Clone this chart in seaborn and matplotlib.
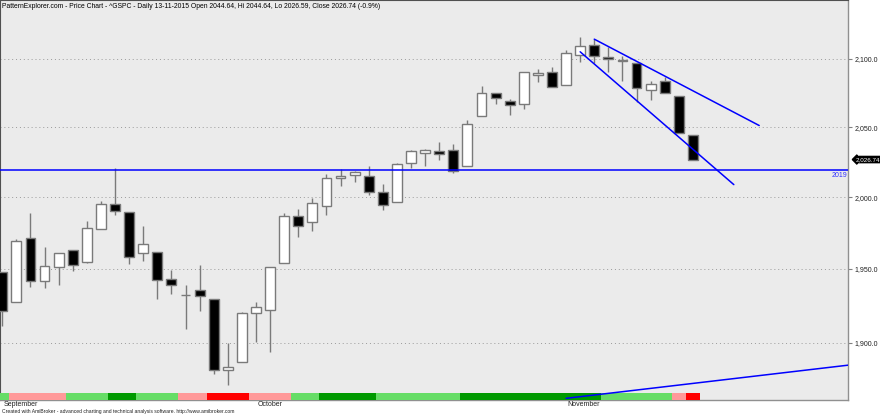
import numpy as np
import pandas as pd
import matplotlib
matplotlib.use('Agg')
import matplotlib.pyplot as plt
import matplotlib.transforms as mtransforms
from matplotlib.ticker import FixedLocator, FuncFormatter, NullLocator
import seaborn as sns

# ^GSPC daily bars, 4 Sep - 13 Nov 2015 (Labor Day closed)
dates = pd.bdate_range('2015-09-04', '2015-11-13').drop(pd.Timestamp('2015-09-07'))

opens = [1947.8, 1927.3, 1971.5, 1941.6, 1951.5, 1963.1, 1955.1, 1978.0, 1995.3, 1989.7,
         1960.8, 1961.4, 1943.2, 1932.2, 1935.9, 1929.2, 1881.9, 1887.1, 1919.7, 1921.8,
         1954.3, 1986.6, 1982.3, 1994.0, 2013.7, 2015.7, 2015.0, 2003.7, 1996.5, 2024.4,
         2031.7, 2033.1, 2033.5, 2021.9, 2058.2, 2075.1, 2068.8, 2066.5, 2088.4, 2090.0,
         2080.8, 2102.6, 2110.6, 2101.7, 2098.6, 2096.6, 2077.2, 2083.4, 2072.3, 2044.64]
highs = [1947.8, 1970.4, 1988.6, 1965.3, 1961.1, 1963.1, 1983.2, 1997.3, 2020.9, 1989.7,
         1979.6, 1961.4, 1949.5, 1938.9, 1952.9, 1929.2, 1899.5, 1920.5, 1927.2, 1951.4,
         1989.2, 1991.6, 1999.3, 2016.5, 2020.1, 2018.7, 2022.3, 2009.6, 2024.2, 2033.5,
         2034.5, 2039.1, 2038.0, 2055.2, 2079.7, 2075.1, 2070.4, 2090.4, 2092.5, 2094.3,
         2106.2, 2116.5, 2114.6, 2108.8, 2101.9, 2096.6, 2083.7, 2086.9, 2072.3, 2044.64]
lows = [1911.2, 1927.3, 1937.9, 1937.2, 1939.2, 1948.3, 1954.3, 1977.9, 1987.7, 1953.5,
        1955.8, 1929.2, 1932.6, 1908.9, 1921.5, 1879.2, 1871.9, 1887.1, 1900.7, 1893.7,
        1954.3, 1972.0, 1976.4, 1987.5, 2007.6, 2010.6, 2001.8, 1990.7, 1996.5, 2020.5,
        2022.3, 2026.6, 2017.2, 2021.9, 2058.2, 2066.5, 2058.8, 2063.1, 2082.6, 2079.3,
        2080.8, 2097.5, 2097.0, 2090.4, 2083.7, 2068.2, 2069.9, 2074.9, 2045.7, 2026.59]
closes = [1921.2, 1969.4, 1942.0, 1952.3, 1961.1, 1953.0, 1978.1, 1995.3, 1990.2, 1958.0,
          1967.0, 1942.7, 1938.8, 1932.2, 1931.3, 1881.8, 1884.1, 1920.0, 1923.8, 1951.4,
          1987.1, 1979.9, 1995.8, 2013.4, 2014.9, 2017.5, 2003.7, 1994.2, 2023.9, 2033.1,
          2033.7, 2030.8, 2018.9, 2052.5, 2075.2, 2071.2, 2065.9, 2090.4, 2089.4, 2079.4,
          2104.1, 2109.8, 2102.3, 2099.9, 2099.2, 2078.6, 2081.7, 2075.0, 2046.0, 2026.74]

# colour strip under the bars: L light green, D dark green, P pink, R red
strip = ['L', 'P', 'P', 'P', 'P', 'L', 'L', 'L', 'D', 'D',
         'L', 'L', 'L', 'P', 'P', 'R', 'R', 'R', 'P', 'P',
         'P', 'L', 'L', 'D', 'D', 'D', 'D', 'L', 'L', 'L',
         'L', 'L', 'L', 'D', 'D', 'D', 'D', 'D', 'D', 'D',
         'D', 'D', 'D', 'L', 'L', 'L', 'L', 'L', 'P', 'R']
strip_colors = {'L': '#66DD66', 'D': '#009900', 'P': '#FF9999', 'R': '#FF0000'}

# hand-drawn lines (bar index, price)
support_level = 2019
upper_line = ([42, 53.7], [2114.6, 2051.2])
lower_line = ([41, 51.9], [2105.2, 2008.9])
bottom_line = ([40, 60], [1863.1, 1885.0])

yticks = [1900, 1950, 2000, 2050, 2100]
title = ("PatternExplorer.com - Price Chart - ^GSPC - Daily 13-11-2015 "
         "Open 2044.64, Hi 2044.64, Lo 2026.59, Close 2026.74 (-0.9%)")
footer = ("Created with AmiBroker - advanced charting and technical analysis "
          "software. http://www.amibroker.com")

sns.set_style('white')
plt.rcParams['font.family'] = ['Liberation Sans', 'DejaVu Sans']

fig = plt.figure(figsize=(8.8, 4.15), dpi=100)
ax = fig.add_axes([0, 15 / 415, 848 / 880, 400 / 415])
ax.set_facecolor('#EBEBEB')

o = np.array(opens)
h = np.array(highs)
l = np.array(lows)
c = np.array(closes)
x = np.arange(len(o))
up = c >= o

ax.set_yscale('log')

# wicks and bodies
ax.vlines(x, l, h, color='#7A7A7A', lw=1, zorder=2)
ax.bar(x, np.abs(c - o), bottom=np.minimum(o, c), width=0.7,
       color=np.where(up, 'white', 'black'), edgecolor='#7A7A7A',
       linewidth=1, zorder=3)

# colour strip
for i, code in enumerate(strip):
    ax.axvspan(i - 0.5, i + 0.5, ymin=0, ymax=0.017,
               color=strip_colors[code], lw=0, zorder=4)

# lines
ax.axhline(support_level, color='#0000FF', lw=1.1, zorder=5)
for xs, ys in [upper_line, lower_line, bottom_line]:
    sns.lineplot(x=xs, y=ys, ax=ax, color='#0000FF', lw=1.1, zorder=5)

ax.set_xlim(-0.16, 60.0)
ax.set_ylim(1862, 2144)

# y axis on the right
ax.yaxis.tick_right()
ax.yaxis.set_major_locator(FixedLocator(yticks))
ax.yaxis.set_minor_locator(NullLocator())
ax.yaxis.set_major_formatter(FuncFormatter(lambda v, _: f'{v:,.1f}'))
ax.tick_params(axis='y', labelsize=5, length=3, width=0.8, color='#808080',
               pad=2, labelcolor='#202020')
ax.grid(axis='y', ls=(0, (1, 3)), color='#9A9A9A', lw=0.7)
ax.set_ylabel('')

# month markers
month_starts = [0] + [i for i in range(1, len(dates)) if dates[i].month != dates[i - 1].month]
ax.set_xticks(month_starts)
ax.set_xticklabels([])
ax.tick_params(axis='x', length=3, width=0.6, color='#404040', direction='out')
bt = mtransforms.blended_transform_factory(ax.transData, ax.transAxes)
for i in month_starts:
    ax.text(i + 0.12, -0.002, dates[i].strftime('%B'), transform=bt,
            fontsize=5, va='top', ha='left', color='#202020')

for side in ['left', 'top']:
    ax.spines[side].set_color('#505050')
    ax.spines[side].set_linewidth(0.8)
for side in ['right', 'bottom']:
    ax.spines[side].set_color('#909090')
    ax.spines[side].set_linewidth(1)

# labels on the right edge
yt = mtransforms.blended_transform_factory(ax.transAxes, ax.transData)
ax.text(0.999, support_level * 0.9995, str(support_level), transform=yt,
        color='#3333FF', fontsize=5, ha='right', va='top')
ax.text(1.009, closes[-1], f'{closes[-1]:,.2f}', transform=yt, color='white',
        fontsize=4.5, ha='left', va='center',
        bbox=dict(boxstyle='larrow,pad=0.1', fc='black', ec='black'), clip_on=False)

ax.text(2 / 848, 1 - 6 / 400, title, transform=ax.transAxes, fontsize=4.9,
        va='center', ha='left', color='black')
fig.text(2 / 880, 1 - 411.5 / 415, footer, fontsize=3.6, va='center', ha='left',
         color='#202020')

fig.savefig('out.png', dpi=100)
